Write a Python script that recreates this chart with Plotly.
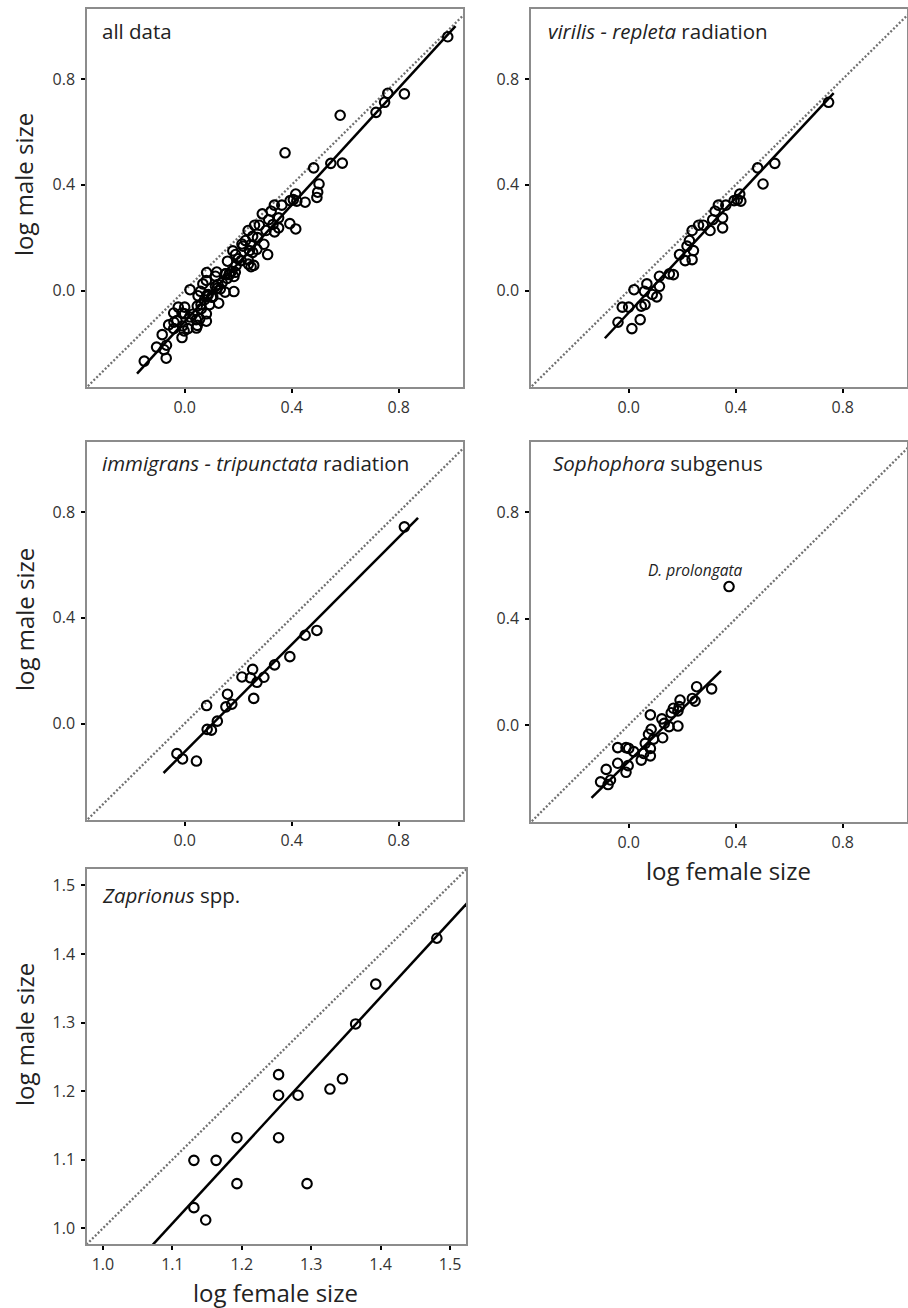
import numpy as np
import plotly.graph_objects as go

W, H = 908, 1308
FONT = "Open Sans"

# ---------------- data (log female size, log male size) ----------------
# virilis - repleta radiation
vir_x = [0.747, 0.546, 0.482, 0.502, 0.415, 0.406, 0.419, 0.394, 0.363, 0.335,
         0.323, 0.351, 0.351, 0.314, 0.304, 0.279, 0.261, 0.237, 0.227, 0.242,
         0.237, 0.211, 0.190, 0.218, 0.167, 0.152, 0.115, 0.115, 0.088, 0.105,
         0.068, 0.059, 0.020, 0.047, 0.061, 0.000, -0.024, -0.040, 0.043, 0.012]
vir_y = [0.712, 0.481, 0.464, 0.403, 0.365, 0.344, 0.338, 0.340, 0.323, 0.323,
         0.300, 0.275, 0.237, 0.268, 0.227, 0.247, 0.247, 0.227, 0.189, 0.151,
         0.117, 0.113, 0.136, 0.168, 0.060, 0.063, 0.054, 0.016, -0.015, -0.024,
         0.025, -0.003, 0.003, -0.059, -0.053, -0.063, -0.063, -0.120, -0.110, -0.144]

# immigrans - tripunctata radiation
imm_x = [0.821, 0.494, 0.450, 0.393, 0.336, 0.296, 0.270, 0.254, 0.246, 0.214,
         0.258, 0.160, 0.176, 0.154, 0.082, 0.122, 0.084, 0.100, -0.029, -0.008, 0.044]
imm_y = [0.744, 0.352, 0.334, 0.253, 0.222, 0.175, 0.156, 0.205, 0.173, 0.176,
         0.095, 0.111, 0.073, 0.063, 0.068, 0.009, -0.022, -0.025, -0.114, -0.134, -0.142]

# Sophophora subgenus
sop_x = [0.375, 0.254, 0.310, 0.238, 0.248, 0.192, 0.189, 0.184, 0.167, 0.159,
         0.184, 0.151, 0.133, 0.124, 0.081, 0.084, 0.074, 0.127, 0.093, 0.062,
         0.081, 0.081, 0.047, 0.056, 0.019, 0.000, -0.010, -0.041, -0.041, -0.002,
         -0.010, -0.084, -0.105, -0.077, -0.068]
sop_y = [0.521, 0.144, 0.136, 0.100, 0.090, 0.094, 0.069, 0.053, 0.063, 0.046,
         -0.004, -0.006, 0.006, 0.023, 0.038, -0.016, -0.035, -0.048, -0.053, -0.069,
         -0.088, -0.116, -0.132, -0.107, -0.100, -0.088, -0.085, -0.085, -0.144, -0.153,
         -0.178, -0.167, -0.214, -0.224, -0.207]

# other species that only appear in the "all data" panel
oth_x = [0.983, 0.759, 0.715, 0.581, 0.589, 0.497, 0.415, -0.151, -0.069,
         0.120, 0.200, 0.272, 0.050, 0.140, 0.330, 0.030, -0.060, 0.290, 0.180]
oth_y = [0.960, 0.746, 0.674, 0.663, 0.482, 0.372, 0.233, -0.267, -0.256,
         0.070, 0.120, 0.200, -0.020, 0.030, 0.250, -0.090, -0.130, 0.290, 0.150]

# Zaprionus spp.
zap_x = [1.481, 1.393, 1.364, 1.345, 1.327, 1.281, 1.253, 1.253, 1.253, 1.193,
         1.193, 1.294, 1.163, 1.131, 1.131, 1.148]
zap_y = [1.423, 1.356, 1.298, 1.218, 1.203, 1.194, 1.224, 1.194, 1.132, 1.132,
         1.065, 1.065, 1.099, 1.099, 1.030, 1.012]

all_x = vir_x + imm_x + sop_x + oth_x
all_y = vir_y + imm_y + sop_y + oth_y

# fitted lines: [x start, x end], slope, intercept
fit_all = ([-0.178, 1.012], 1.105, -0.118)
fit_vir = ([-0.089, 0.766], 1.085, -0.084)
fit_imm = ([-0.079, 0.872], 1.015, -0.107)
fit_sop = ([-0.139, 0.345], 0.988, -0.137)
fit_zap = ([1.070, 1.530], 1.100, -0.203)

ticks_main = [0.0, 0.4, 0.8]
ticks_zap = [1.0, 1.1, 1.2, 1.3, 1.4, 1.5]

# ---------------- layout geometry (pixels) ----------------
panels = [
    # (left, right, top, bottom), xrange, yrange, ticks
    ((87, 463, 9, 387), [-0.365, 1.04], [-0.365, 1.065], ticks_main),
    ((531, 907, 9, 387), [-0.365, 1.04], [-0.365, 1.065], ticks_main),
    ((87, 463, 442, 820), [-0.365, 1.04], [-0.365, 1.065], ticks_main),
    ((531, 907, 442, 822), [-0.365, 1.04], [-0.365, 1.065], ticks_main),
    ((87, 466, 869, 1244), [0.977, 1.523], [0.977, 1.524], ticks_zap),
]
datasets = [(all_x, all_y, fit_all), (vir_x, vir_y, fit_vir), (imm_x, imm_y, fit_imm),
            (sop_x, sop_y, fit_sop), (zap_x, zap_y, fit_zap)]

fig = go.Figure()
layout = dict(width=W, height=H, margin=dict(l=0, r=0, t=0, b=0),
              paper_bgcolor="white", plot_bgcolor="white", showlegend=False,
              font=dict(family=FONT, color="#333333"))

for i, ((l, r, t, b), xr, yr, tk) in enumerate(panels):
    n = "" if i == 0 else str(i + 1)
    xa, ya = "x" + n, "y" + n
    px, py, fit = datasets[i]
    # identity line
    idl = np.array([xr[0] - 0.05, xr[1] + 0.05])
    fig.add_trace(go.Scatter(x=idl, y=idl, mode="lines", xaxis=xa, yaxis=ya,
                             line=dict(color="#707070", width=2.3, dash="2px,2px"),
                             hoverinfo="skip"))
    # fitted line
    fx = np.array(fit[0])
    fy = fit[2] + fit[1] * fx
    fig.add_trace(go.Scatter(x=fx, y=fy, mode="lines", xaxis=xa, yaxis=ya,
                             line=dict(color="black", width=2.5)))
    # points
    fig.add_trace(go.Scatter(x=px, y=py, mode="markers", xaxis=xa, yaxis=ya,
                             marker=dict(symbol="circle-open", size=9.5, color="black",
                                         line=dict(width=2.1))))
    fmt = ".1f"
    axcommon = dict(showgrid=False, zeroline=False, showline=True, mirror=True,
                    linecolor="#8c8c8c", linewidth=1.5, ticks="outside", ticklen=4,
                    tickwidth=2, tickcolor="black", tickvals=tk, tickformat=fmt,
                    tickfont=dict(family=FONT, size=16, color="#333333"))
    layout["xaxis" + n] = dict(axcommon, domain=[l / W, r / W], range=xr,
                               anchor=ya, ticklabelstandoff=1)
    layout["yaxis" + n] = dict(axcommon, domain=[1 - b / H, 1 - t / H], range=yr,
                               anchor=xa, ticklabelstandoff=3)

ann = []
def pa(text, x, y, size, xanchor="left", angle=0):
    ann.append(dict(text=text, xref="paper", yref="paper", x=x / W, y=1 - y / H,
                    xanchor=xanchor, yanchor="middle", showarrow=False, textangle=angle,
                    font=dict(family=FONT, size=size, color="#222222")))

pa("all data", 100, 31, 20.5)
pa("<i>virilis - repleta</i> radiation", 546, 31, 20.5)
pa("<i>immigrans - tripunctata</i> radiation", 100, 463, 20.5)
pa("<i>Sophophora</i> subgenus", 551, 463, 20.5)
pa("<i>Zaprionus</i> spp.", 100, 895, 20.5)

pa("log male size", 24, 185, 24, xanchor="center", angle=-90)
pa("log male size", 24, 620, 24, xanchor="center", angle=-90)
pa("log male size", 24, 1035, 24, xanchor="center", angle=-90)
pa("log female size", 728, 870, 24, xanchor="center")
pa("log female size", 275, 1292, 24, xanchor="center")

ann.append(dict(text="<i>D. prolongata</i>", xref="x4", yref="y4", x=0.249, y=0.584,
                xanchor="center", yanchor="middle", showarrow=False,
                font=dict(family=FONT, size=15.5, color="#222222")))
layout["annotations"] = ann

fig.update_layout(**layout)
fig.write_html("out.html", config={"displayModeBar": False},
               post_script="document.body.style.margin='0px';")
